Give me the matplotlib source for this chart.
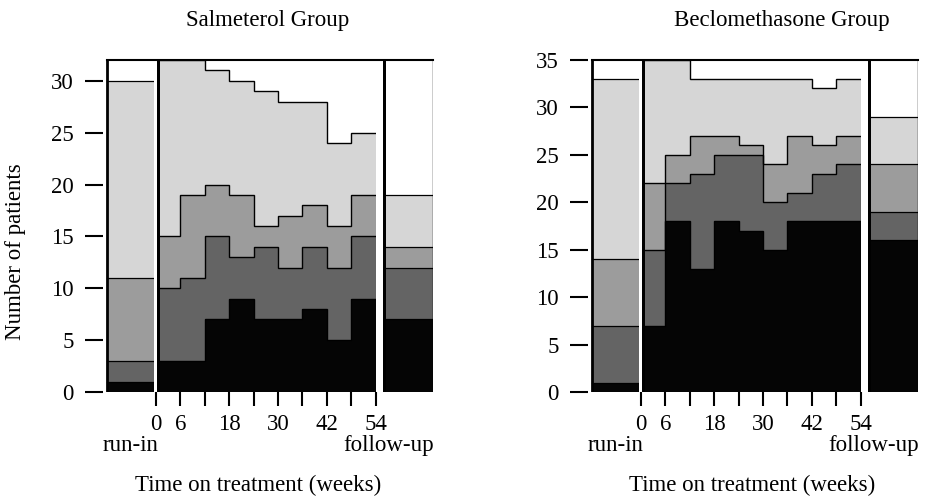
import numpy as np
import matplotlib.pyplot as plt

plt.rcParams['font.family'] = ['Liberation Serif', 'DejaVu Serif']
plt.rcParams['font.size'] = 16.5

# treatment intervals (weeks)
weeks = [0, 6, 12, 18, 24, 30, 36, 42, 48, 54]
week_labels = ['0', '6', '', '18', '', '30', '', '42', '', '54']
layer_colors = ['#050505', '#646464', '#9c9c9c', '#d6d6d6']

# Salmeterol group - patients per category (black, dark, medium, light)
sal_black = [3, 3, 7, 9, 7, 7, 8, 5, 9]
sal_dark = [7, 8, 8, 4, 7, 5, 6, 7, 6]
sal_medium = [5, 8, 5, 6, 2, 5, 4, 4, 4]
sal_light = [17, 13, 11, 11, 13, 11, 10, 8, 6]
sal_runin = [1, 2, 8, 19]
sal_followup = [7, 5, 2, 5]
sal_total = 32
sal_yticks = [0, 5, 10, 15, 20, 25, 30]

# Beclomethasone group
bec_black = [7, 18, 13, 18, 17, 15, 18, 18, 18]
bec_dark = [8, 4, 10, 7, 8, 5, 3, 5, 6]
bec_medium = [7, 3, 4, 2, 1, 4, 6, 3, 3]
bec_light = [13, 10, 6, 6, 7, 9, 6, 6, 6]
bec_runin = [1, 6, 7, 19]
bec_followup = [16, 3, 5, 5]
bec_total = 35
bec_yticks = [0, 5, 10, 15, 20, 25, 30, 35]

RUNIN = (-12.0, -0.4)
FOLLOW = (56.5, 68.1)


def draw_bar(ax, counts, x0, x1):
    tops = np.cumsum(counts)
    bots = tops - np.array(counts)
    for b, t, c in zip(bots, tops, layer_colors):
        ax.fill_between([x0, x1], b, t, color=c, lw=0, zorder=1)
        ax.plot([x0, x1], [t, t], color='black', lw=0.9, zorder=2)


def draw_panel(ax, layers, runin, followup, total, yticks):
    tops = np.cumsum(np.array(layers), axis=0)
    bots = tops - np.array(layers)
    for b, t, c in zip(bots, tops, layer_colors):
        ax.stairs(t, weeks, baseline=b, fill=True, color=c, lw=0, zorder=1)
    for t in tops:
        ax.stairs(t, weeks, baseline=None, color='black', lw=1.0, zorder=2)

    draw_bar(ax, runin, *RUNIN)
    draw_bar(ax, followup, *FOLLOW)

    # separators
    ax.axvspan(-0.4, 0.2, color='white', lw=0, zorder=3)
    ax.axvspan(0.2, 1.0, color='black', lw=0, zorder=3)
    ax.axvspan(54.0, 55.8, color='white', lw=0, zorder=3)
    ax.axvspan(55.8, 56.5, color='black', lw=0, zorder=3)
    ax.plot([RUNIN[0], RUNIN[0]], [0, total], color='black', lw=2, zorder=4)
    ax.plot([FOLLOW[1] - 0.1, FOLLOW[1] - 0.1], [0, total], color='black', lw=1, zorder=4)
    ax.plot([RUNIN[0], FOLLOW[1]], [total, total], color='black', lw=1.5,
            zorder=4, clip_on=False)

    ax.set_xlim(-13, 68.1)
    ax.set_ylim(0, total)
    for s in ax.spines.values():
        s.set_visible(False)
    ax.set_yticks(yticks)
    ax.set_xticks(weeks)
    ax.set_xticklabels(week_labels)
    ax.tick_params(axis='y', length=13, width=1.5, pad=8)
    ax.tick_params(axis='x', length=10, width=1.5, pad=6)
    ax.text(-6.2, -0.16, 'run-in', transform=ax.get_xaxis_transform(),
            ha='center', va='center')
    ax.text(68.3, -0.16, 'follow-up', transform=ax.get_xaxis_transform(),
            ha='right', va='center')


fig = plt.figure(figsize=(9.25, 4.98), dpi=100)
ax1 = fig.add_axes([103 / 925, 106 / 498, 330 / 925, 332 / 498])
ax2 = fig.add_axes([588 / 925, 106 / 498, 330 / 925, 332 / 498])

draw_panel(ax1, [sal_black, sal_dark, sal_medium, sal_light],
           sal_runin, sal_followup, sal_total, sal_yticks)
draw_panel(ax2, [bec_black, bec_dark, bec_medium, bec_light],
           bec_runin, bec_followup, bec_total, bec_yticks)

fig.text(268 / 925, 1 - 20 / 498, 'Salmeterol Group', ha='center', va='center')
fig.text(782 / 925, 1 - 20 / 498, 'Beclomethasone Group', ha='center', va='center')
fig.text(16 / 925, 1 - 252 / 498, 'Number of patients', rotation=90,
         ha='center', va='center')
fig.text(258 / 925, 1 - 485 / 498, 'Time on treatment (weeks)', ha='center', va='center')
fig.text(752 / 925, 1 - 485 / 498, 'Time on treatment (weeks)', ha='center', va='center')

fig.savefig('out.png', dpi=100)
